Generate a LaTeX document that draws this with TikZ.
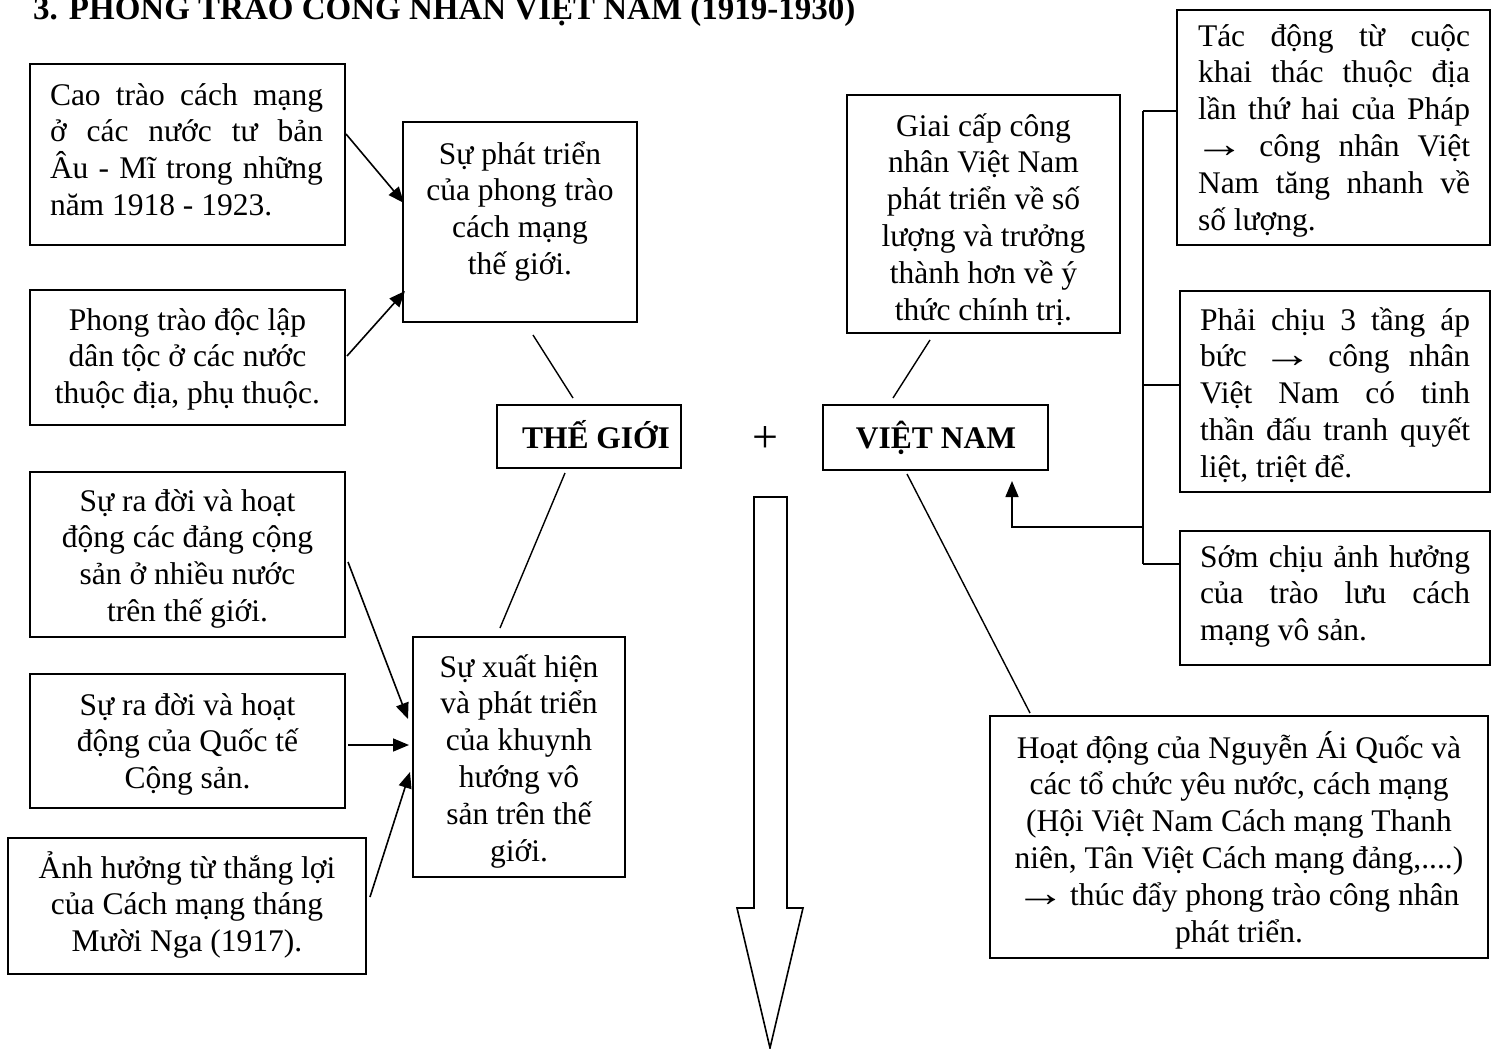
\documentclass[tikz,border=0pt]{standalone}
\usepackage{fontspec}
\usepackage{graphicx}
\setmainfont{Liberation Serif}
\usetikzlibrary{arrows.meta}
\newcommand\fs{\rule{0pt}{30pt}}
\newcommand\jl[2]{\makebox[#1][s]{#2}}
\newcommand\lastl[2]{\makebox[#1][l]{#2}}
\newcommand\ra{\kern-3.5pt\raisebox{-1pt}{\scalebox{1.6}[1.25]{→}}\kern-3.5pt}
\begin{document}
\begin{tikzpicture}[x=1pt,y=-1pt,
  bx/.style={draw, line width=1.6pt, inner sep=0pt, outer sep=0pt},
  txt/.style={inner sep=0pt, outer sep=0pt, font=\fontsize{31.5}{36.8}\selectfont},
  ctxt/.style={txt, anchor=north, align=center},
  jtxt/.style={txt, anchor=north west, align=left},
  arr/.style={line width=1.6pt, -{Triangle[length=16pt,width=13pt]}},
  ln/.style={line width=1.4pt}]
\useasboundingbox (0,0) rectangle (1497,1049);
\clip (0,0) rectangle (1497,1049);

% title
\node[anchor=base west, inner sep=0pt, font=\fontsize{33}{38}\selectfont\bfseries] (title) at (33,20) {3. PHONG TRÀO CÔNG NHÂN VIỆT NAM (1919-1930)};

% boxes
\node[bx, minimum width=315pt, minimum height=181pt] (b1) at (187.5,154.5) {};
\node[bx, minimum width=315pt, minimum height=135pt] (b2) at (187.5,357.5) {};
\node[bx, minimum width=234pt, minimum height=200pt] (b3) at (520,222) {};
\node[bx, minimum width=184pt, minimum height=63pt] (tg) at (589,436.5) {};
\node[bx, minimum width=225pt, minimum height=65pt] (vn) at (935.5,437.5) {};
\node[bx, minimum width=273pt, minimum height=238pt] (b6) at (983.5,214) {};
\node[bx, minimum width=313pt, minimum height=235pt] (b7) at (1333.5,127.5) {};
\node[bx, minimum width=310pt, minimum height=201pt] (b8) at (1335,391.5) {};
\node[bx, minimum width=310pt, minimum height=134pt] (b9) at (1335,598) {};
\node[bx, minimum width=315pt, minimum height=165pt] (b10) at (187.5,554.5) {};
\node[bx, minimum width=315pt, minimum height=134pt] (b11) at (187.5,741) {};
\node[bx, minimum width=358pt, minimum height=136pt] (b12) at (187,906) {};
\node[bx, minimum width=212pt, minimum height=240pt] (b13) at (519,757) {};
\node[bx, minimum width=498pt, minimum height=242pt] (b14) at (1239,837) {};

% texts
\node[jtxt] (t1) at (50,75) {\fs\jl{273pt}{Cao trào cách mạng}\\\jl{273pt}{ở các nước tư bản}\\\jl{273pt}{Âu - Mĩ trong những}\\\lastl{273pt}{năm 1918 - 1923.}};
\node[ctxt] (t2) at (187.5,300) {\fs Phong trào độc lập\\dân tộc ở các nước\\thuộc địa, phụ thuộc.};
\node[ctxt] (t3) at (520,134) {\fs Sự phát triển\\của phong trào\\cách mạng\\thế giới.};
\node[txt, anchor=base, font=\fontsize{31.5}{36.5}\selectfont\bfseries] (t4) at (596,448) {THẾ GIỚI};
\node[txt, anchor=base, font=\fontsize{31.5}{36.5}\selectfont\bfseries] (t5) at (936,448) {VIỆT NAM};
\node[txt, anchor=base, font=\fontsize{46}{50}\selectfont] (plus) at (765,452) {+};
\node[ctxt] (t6) at (983.5,106) {\fs Giai cấp công\\nhân Việt Nam\\phát triển về số\\lượng và trưởng\\thành hơn về ý\\thức chính trị.};
\node[jtxt] (t7) at (1198,16) {\fs\jl{272pt}{Tác động từ cuộc}\\\jl{272pt}{khai thác thuộc địa}\\\jl{272pt}{lần thứ hai của Pháp}\\\jl{272pt}{\ra{} công nhân Việt}\\\jl{272pt}{Nam tăng nhanh về}\\\lastl{272pt}{số lượng.}};
\node[jtxt] (t8) at (1200,300) {\fs\jl{270pt}{Phải chịu 3 tầng áp}\\\jl{270pt}{bức \ra{} công nhân}\\\jl{270pt}{Việt Nam có tinh}\\\jl{270pt}{thần đấu tranh quyết}\\\lastl{270pt}{liệt, triệt để.}};
\node[jtxt] (t9) at (1200,537) {\fs\jl{270pt}{Sớm chịu ảnh hưởng}\\\jl{270pt}{của trào lưu cách}\\\lastl{270pt}{mạng vô sản.}};
\node[ctxt] (t10) at (187.5,481) {\fs Sự ra đời và hoạt\\động các đảng cộng\\sản ở nhiều nước\\trên thế giới.};
\node[ctxt] (t11) at (187.5,685) {\fs Sự ra đời và hoạt\\động của Quốc tế\\Cộng sản.};
\node[ctxt] (t12) at (187,848) {\fs Ảnh hưởng từ thắng lợi\\của Cách mạng tháng\\Mười Nga (1917).};
\node[ctxt] (t13) at (519,647) {\fs Sự xuất hiện\\và phát triển\\của khuynh\\hướng vô\\sản trên thế\\giới.};
\node[ctxt] (t14) at (1239,728) {\fs Hoạt động của Nguyễn Ái Quốc và\\các tổ chức yêu nước, cách mạng\\(Hội Việt Nam Cách mạng Thanh\\niên, Tân Việt Cách mạng đảng,....)\\\ra{} thúc đẩy phong trào công nhân\\phát triển.};

% connector coordinates
\coordinate (a1s) at (346,134);
\coordinate (a1e) at (404,203);
\coordinate (a2s) at (347,356);
\coordinate (a2e) at (405,291);
\coordinate (l1s) at (533,335);
\coordinate (l1e) at (573,398);
\coordinate (l2s) at (565,473);
\coordinate (l2e) at (500,628);
\coordinate (a3s) at (348,562);
\coordinate (a3e) at (408,719);
\coordinate (a4s) at (348,745);
\coordinate (a4e) at (409,745);
\coordinate (a5s) at (370,897);
\coordinate (a5e) at (410,772);
\coordinate (l3s) at (930,340);
\coordinate (l3e) at (893,398);
\coordinate (l4s) at (907,474);
\coordinate (l4e) at (1030,713);
\coordinate (brt) at (1143,111);
\coordinate (brm) at (1143,385);
\coordinate (brj) at (1143,527);
\coordinate (brb) at (1143,564);
\coordinate (upc) at (1012,527);
\coordinate (upe) at (1012,481);

% connectors
\draw[arr] (a1s) -- (a1e);
\draw[arr] (a2s) -- (a2e);
\draw[ln] (l1s) -- (l1e);
\draw[ln] (l2s) -- (l2e);
\draw[arr] (a3s) -- (a3e);
\draw[arr] (a4s) -- (a4e);
\draw[arr] (a5s) -- (a5e);
\draw[ln] (l3s) -- (l3e);
\draw[ln] (l4s) -- (l4e);
\draw[line width=1.6pt] (brt) -- (brb);
\draw[line width=1.6pt] (brt) -- (brt -| b7.west);
\draw[line width=1.6pt] (brm) -- (brm -| b8.west);
\draw[line width=1.6pt] (brb) -- (brb -| b9.west);
\draw[arr] (brj) -- (upc) -- (upe);

% big down arrow
\draw[line width=1.6pt, line join=miter] (754,497) -- (787,497) -- (787,908) -- (803,908) -- (770,1048) -- (737,908) -- (754,908) -- cycle;
\end{tikzpicture}
\end{document}
